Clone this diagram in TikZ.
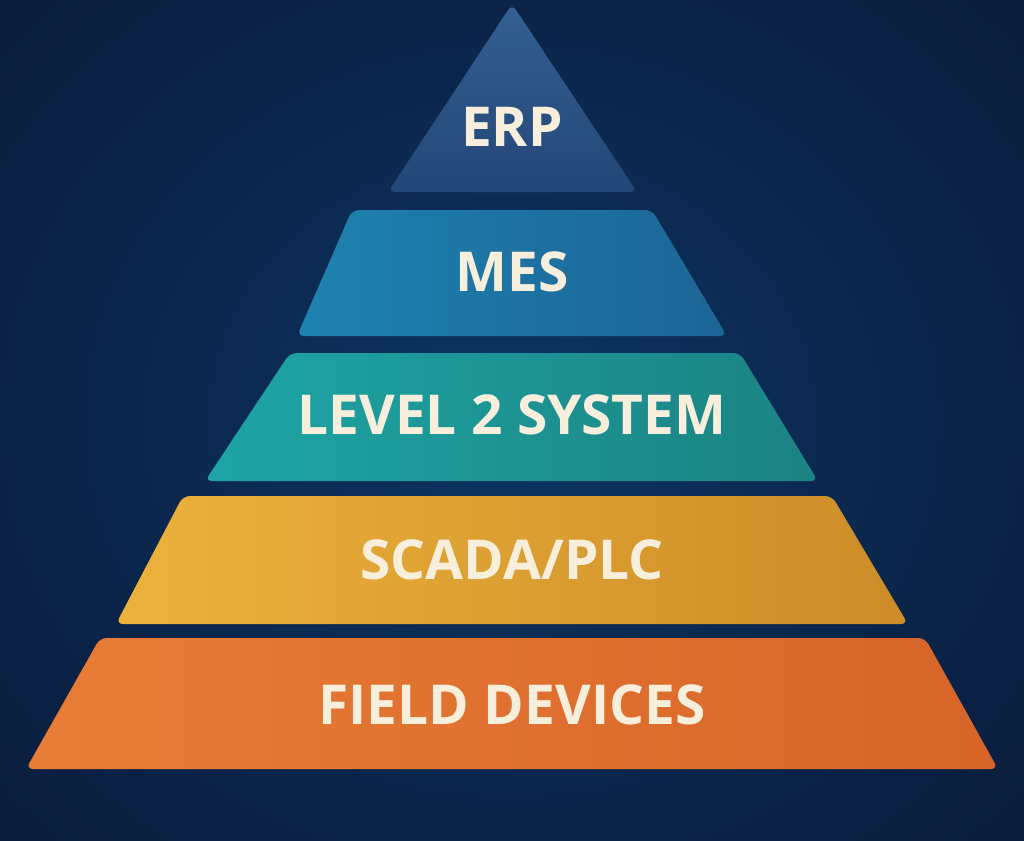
\documentclass[tikz,border=0pt]{standalone}
\usepackage{fontspec}
\setmainfont{Open Sans}
\begin{document}
\begin{tikzpicture}[x=1pt,y=-1pt,
  layer/.style={rounded corners=7pt},
  lbl/.style={text=textc,font=\fontsize{55}{62}\selectfont\bfseries}]
\definecolor{bgc}{HTML}{0D3462}
\definecolor{bgd}{HTML}{0A1A38}
\definecolor{textc}{HTML}{F7EEDC}
\useasboundingbox (0,0) rectangle (1024,840);
\fill[inner color=bgc, outer color=bgd] (-250,-250) rectangle (1274,1090);
\shade[layer, top color={rgb,255:red,52;green,95;blue,145}, bottom color={rgb,255:red,36;green,70;blue,120}] (512,4) -- (637,192) -- (388,192) -- cycle;
\shade[layer, left color={rgb,255:red,30;green,130;blue,175}, right color={rgb,255:red,28;green,100;blue,150}] (352,210) -- (652,210) -- (727,336) -- (297,336) -- cycle;
\shade[layer, left color={rgb,255:red,30;green,165;blue,165}, right color={rgb,255:red,28;green,130;blue,130}] (290,353) -- (740,353) -- (818,481) -- (205,481) -- cycle;
\shade[layer, left color={rgb,255:red,235;green,178;blue,60}, right color={rgb,255:red,205;green,140;blue,40}] (183,496) -- (832,496) -- (908,624) -- (116,624) -- cycle;
\shade[layer, left color={rgb,255:red,232;green,125;blue,55}, right color={rgb,255:red,215;green,100;blue,40}] (100,638) -- (925,638) -- (998,769) -- (26,769) -- cycle;
\node[lbl] (erp) at (512,127) {ERP};
\node[lbl] (mes) at (512,272) {MES};
\node[lbl] (l2) at (512,415) {LEVEL 2 SYSTEM};
\node[lbl] (sc) at (512,560) {SCADA/PLC};
\node[lbl] (fd) at (512,705) {FIELD DEVICES};
\end{tikzpicture}
\end{document}
